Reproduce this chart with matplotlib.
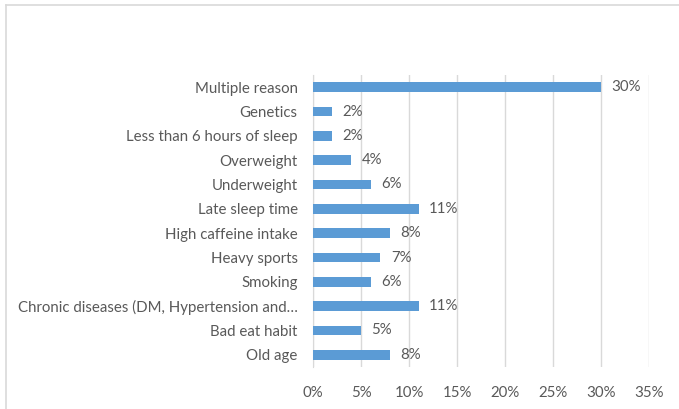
import matplotlib.pyplot as plt
from matplotlib.lines import Line2D
from matplotlib.ticker import FuncFormatter

# Reasons, top to bottom as shown on the chart
reasons = [
    "Multiple reason",
    "Genetics",
    "Less than 6 hours of sleep",
    "Overweight",
    "Underweight",
    "Late sleep time",
    "High caffeine intake",
    "Heavy sports",
    "Smoking",
    "Chronic diseases (DM, Hypertension and\u2026",
    "Bad eat habit",
    "Old age",
]
percent = [30, 2, 2, 4, 6, 11, 8, 7, 6, 11, 5, 8]
x_ticks = [0, 5, 10, 15, 20, 25, 30, 35]

bar_color = "#5B9BD5"
text_color = "#595959"
grid_color = "#D9D9D9"
fs = 10.8

plt.rcParams['font.family'] = ['Lato', 'DejaVu Sans']

fig = plt.figure(figsize=(6.79, 4.09), dpi=100)
ax = fig.add_axes([313 / 679, 1 - 367 / 409, 336 / 679, 292 / 409])

y = list(range(len(reasons)))
ax.barh(y, percent, height=0.4, color=bar_color, zorder=3)
ax.set_ylim(len(reasons) - 0.5, -0.5)
ax.set_xlim(0, 35)

# value labels at the end of each bar
for yi, v in zip(y, percent):
    ax.text(v + 1.1, yi, f"{v}%", va="center", ha="left",
            fontsize=fs, color=text_color)

ax.set_yticks(y)
ax.set_yticklabels(reasons, fontsize=fs, color=text_color)
ax.set_xticks(x_ticks)
ax.xaxis.set_major_formatter(FuncFormatter(lambda v, _: f"{v:.0f}%"))
ax.tick_params(axis="x", labelsize=fs, colors=text_color, length=0, pad=14)
ax.tick_params(axis="y", length=0, pad=11)

ax.grid(axis="x", color=grid_color, linewidth=1, zorder=0)
for side in ["top", "right", "bottom"]:
    ax.spines[side].set_visible(False)
ax.spines["left"].set_color(grid_color)

# outer chart frame (only top and left edges fall inside the image)
fig.add_artist(Line2D([5.5 / 679, 5.5 / 679], [0, 1 - 4.5 / 409],
                      transform=fig.transFigure, color=grid_color, linewidth=1.2))
fig.add_artist(Line2D([5.5 / 679, 1], [1 - 4.5 / 409, 1 - 4.5 / 409],
                      transform=fig.transFigure, color=grid_color, linewidth=1.2))

fig.savefig("out.png", dpi=100)
